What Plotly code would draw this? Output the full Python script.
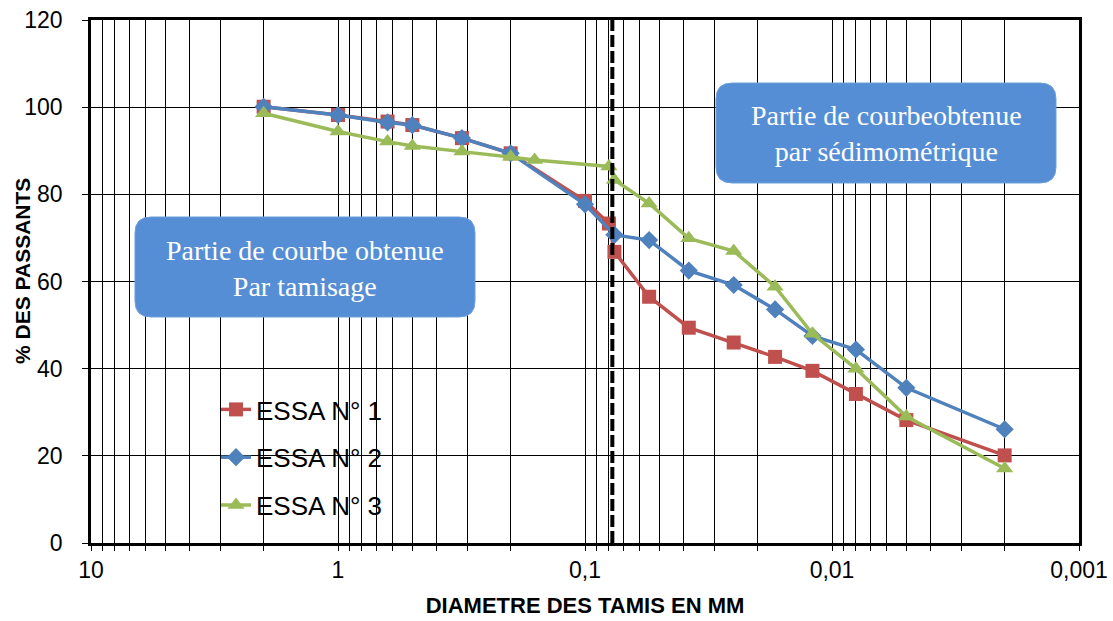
import plotly.graph_objects as go

# Particle-size analysis: sieve diameter (mm) vs. percentage passing
diam_1 = [2, 1, 0.63, 0.5, 0.315, 0.2, 0.1, 0.08, 0.076, 0.055, 0.038, 0.025, 0.017, 0.012, 0.008, 0.005, 0.002]
pass_1 = [100.1, 98.2, 96.7, 95.9, 92.9, 89.4, 78.5, 73.3, 66.8, 56.5, 49.4, 46.0, 42.7, 39.5, 34.2, 28.2, 20.1]

diam_2 = [2, 1, 0.63, 0.5, 0.315, 0.2, 0.1, 0.076, 0.055, 0.038, 0.025, 0.017, 0.012, 0.008, 0.005, 0.002]
pass_2 = [100.1, 98.2, 96.5, 95.9, 92.9, 89.4, 77.7, 70.7, 69.5, 62.5, 59.2, 53.6, 47.5, 44.4, 35.6, 26.1]

diam_3 = [2, 1, 0.63, 0.5, 0.315, 0.2, 0.16, 0.08, 0.076, 0.055, 0.038, 0.025, 0.017, 0.012, 0.008, 0.005, 0.002]
pass_3 = [98.6, 94.4, 92.1, 91.1, 89.8, 88.6, 87.9, 86.4, 83.3, 77.9, 69.9, 67.0, 58.8, 48.0, 40.0, 29.0, 17.1]

series_names = ["ESSA N° 1", "ESSA N° 2", "ESSA N° 3"]

# Boundary between sieving and sedimentometry
sep_diam = [0.0775, 0.0775]
sep_pass = [0, 120]

# Log axis ticks: every 1..9 multiple gets a grid line, decades get a label
decades = [10, 1, 0.1, 0.01, 0.001]
decade_labels = ["10", "1", "0,1", "0,01", "0,001"]

W, H = 1113, 621
L, R, T, B = 91, 34, 20, 78
PW, PH = W - L - R, H - T - B


def px_to_paper(px, py):
    return (px - L) / PW, (H - B - py) / PH


def rounded_box(x0, y0, x1, y1, r):
    """SVG path for a rounded rectangle given in pixel coordinates, output in paper units."""
    def P(x, y):
        a, b = px_to_paper(x, y)
        return f"{a:.5f},{b:.5f}"

    parts = [
        f"M{P(x0 + r, y0)}",
        f"L{P(x1 - r, y0)}",
        f"Q{P(x1, y0)} {P(x1, y0 + r)}",
        f"L{P(x1, y1 - r)}",
        f"Q{P(x1, y1)} {P(x1 - r, y1)}",
        f"L{P(x0 + r, y1)}",
        f"Q{P(x0, y1)} {P(x0, y1 - r)}",
        f"L{P(x0, y0 + r)}",
        f"Q{P(x0, y0)} {P(x0 + r, y0)}",
        "Z",
    ]
    return " ".join(parts)


tickvals, ticktext = [], []
for d, lab in zip(decades, decade_labels):
    tickvals.append(d)
    ticktext.append(lab)
for d in decades[1:]:
    for m in range(2, 10):
        tickvals.append(d * m)
        ticktext.append("")

red, blue, green = "#C0504D", "#4F81BD", "#9BBB59"

fig = go.Figure()
fig.add_trace(go.Scatter(
    x=diam_1, y=pass_1, name=series_names[0], mode="lines+markers",
    line=dict(color=red, width=3.5),
    marker=dict(symbol="square", size=14, color=red),
    legendgroup="g1",
))
fig.add_trace(go.Scatter(
    x=diam_2, y=pass_2, name=series_names[1], mode="lines+markers",
    line=dict(color=blue, width=3.5),
    marker=dict(symbol="diamond", size=14, color=blue),
    legendgroup="g2",
))
fig.add_trace(go.Scatter(
    x=diam_3, y=pass_3, name=series_names[2], mode="lines+markers",
    line=dict(color=green, width=3.5),
    marker=dict(symbol="triangle-up", size=15, color=green),
    legendgroup="g3",
))
fig.add_trace(go.Scatter(
    x=sep_diam, y=sep_pass, mode="lines", showlegend=False,
    line=dict(color="black", width=4, dash="12px,4px"),
    hoverinfo="skip",
))

shapes = [
    # white backing behind the legend
    dict(type="rect", xref="paper", yref="paper", layer="between",
         x0=px_to_paper(137, 0)[0], x1=px_to_paper(450, 0)[0],
         y0=px_to_paper(0, 525)[1], y1=px_to_paper(0, 385)[1],
         fillcolor="white", line=dict(width=0)),
    dict(type="path", xref="paper", yref="paper", layer="above",
         path=rounded_box(135, 217, 475, 317, 16),
         fillcolor="#558ED5", line=dict(color="#6E9FDD", width=1)),
    dict(type="path", xref="paper", yref="paper", layer="above",
         path=rounded_box(716, 83, 1056, 183, 16),
         fillcolor="#558ED5", line=dict(color="#6E9FDD", width=1)),
]

serif = "Liberation Serif, Times New Roman, serif"
sans = "Liberation Sans, Arial, sans-serif"
annotations = [
    dict(xref="paper", yref="paper", x=px_to_paper(305, 0)[0], y=px_to_paper(0, 268)[1],
         text="Partie de courbe obtenue<br>Par tamisage", showarrow=False,
         font=dict(family=serif, size=28, color="white"), align="center",
         xanchor="center", yanchor="middle"),
    dict(xref="paper", yref="paper", x=px_to_paper(886, 0)[0], y=px_to_paper(0, 134)[1],
         text="Partie de courbeobtenue<br>par sédimométrique", showarrow=False,
         font=dict(family=serif, size=28, color="white"), align="center",
         xanchor="center", yanchor="middle"),
    # vertical axis title
    dict(xref="paper", yref="paper", x=px_to_paper(22, 0)[0], y=px_to_paper(0, 271)[1],
         text="<b>% DES PASSANTS</b>", showarrow=False, textangle=-90,
         font=dict(family=sans, size=21, color="black"),
         xanchor="center", yanchor="middle"),
]

fig.update_layout(
    width=W, height=H,
    margin=dict(l=L, r=R, t=T, b=B, pad=0, autoexpand=False),
    paper_bgcolor="white", plot_bgcolor="white",
    font=dict(family=sans, color="black"),
    shapes=shapes,
    annotations=annotations,
    showlegend=True,
    legend=dict(
        x=px_to_paper(216, 0)[0], y=px_to_paper(0, 386)[1],
        xanchor="left", yanchor="top",
        bgcolor="rgba(0,0,0,0)", borderwidth=0,
        font=dict(family=sans, size=26, color="black"),
        traceorder="grouped", tracegroupgap=11,
    ),
    xaxis=dict(
        type="log", range=[1, -3], autorange=False,
        tickvals=tickvals, ticktext=ticktext,
        showgrid=True, gridcolor="black", gridwidth=1,
        ticks="outside", ticklen=5, tickcolor="black",
        showline=True, linecolor="black", linewidth=2.5, mirror=True,
        tickfont=dict(family=sans, size=23),
        title=dict(text="<b>DIAMETRE DES TAMIS EN MM</b>",
                   font=dict(family=sans, size=22), standoff=16),
        zeroline=False, automargin=False,
    ),
    yaxis=dict(
        range=[0, 120], dtick=20, tick0=0,
        showgrid=True, gridcolor="black", gridwidth=1,
        ticks="outside", ticklen=6, tickcolor="black",
        showline=True, linecolor="black", linewidth=2.5, mirror=True,
        tickfont=dict(family=sans, size=23),
        ticklabelstandoff=15,
        zeroline=False, automargin=False,
    ),
)

fig.write_html("out.html")
